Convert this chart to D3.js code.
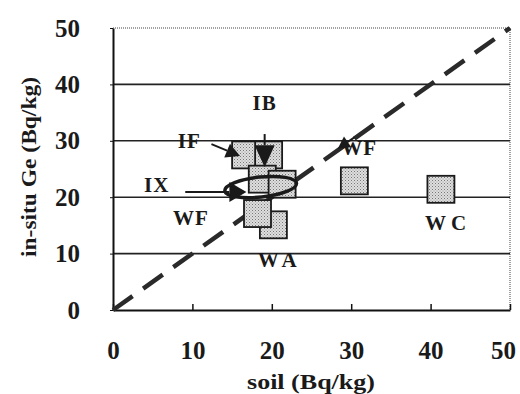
<!DOCTYPE html>
<html>
<head>
<meta charset="utf-8">
<script src="https://cdn.jsdelivr.net/npm/d3@7"></script>
<style>
  body { margin: 0; background: #fff; }
  text { font-family: "Liberation Serif", "Times New Roman", serif; font-weight: bold; fill: #1a1a1a; }
</style>
</head>
<body>
<div class="canva"></div>
<script>
// measured points, soil vs in-situ Ge (Bq/kg)
const soil = [16.7, 19.6, 18.8, 21.3, 20.2, 18.2, 30.4, 41.3];
const insitu = [27.5, 27.5, 23.2, 22.3, 15.1, 17.1, 22.9, 21.4];

const ticks = [0, 10, 20, 30, 40, 50];
const gridValues = [10, 20, 30, 40];

// site labels
const labelNames = ["IB", "IF", "WF", "IX", "WF", "WC", "WA"];
const labelX = [19.1, 9.6, 31.0, 5.5, 9.8, 42.2, 21.0];
const labelY = [35.5, 28.7, 27.5, 20.9, 15.1, 14.2, 7.6];

// arrows: from -> to
const arrowFromX = [19.1, 12.4, 30.4, 9.1];
const arrowFromY = [31.2, 29.4, 30.6, 20.9];
const arrowToX = [19.1, 16.0, 28.3, 16.8];
const arrowToY = [25.3, 27.3, 28.6, 20.9];

const W = 520, H = 394;
const mLeft = 113, mRight = 510, mTop = 28, mBottom = 310;

const svg = d3.select(".canva").append("svg")
    .attr("width", W)
    .attr("height", H);

svg.append("rect").attr("width", W).attr("height", H).attr("fill", "#fff");

const x = d3.scaleLinear().domain([0, 50]).range([mLeft, mRight]);
const y = d3.scaleLinear().domain([0, 50]).range([mBottom, mTop]);

// stipple fill for the squares
const pat = svg.append("defs").append("pattern")
    .attr("id", "dots")
    .attr("width", 3).attr("height", 3)
    .attr("patternUnits", "userSpaceOnUse");
pat.append("rect").attr("width", 3).attr("height", 3).attr("fill", "#dedede");
pat.append("rect").attr("width", 1).attr("height", 1).attr("fill", "#777");
pat.append("rect").attr("x", 1.5).attr("y", 1.5).attr("width", 1).attr("height", 1).attr("fill", "#999");

// dotted frame top / right
svg.append("line")
    .attr("x1", x(0)).attr("y1", y(50)).attr("x2", x(50)).attr("y2", y(50))
    .attr("stroke", "#444").attr("stroke-width", 1).attr("stroke-dasharray", "1,1");
svg.append("line")
    .attr("x1", x(50)).attr("y1", y(50)).attr("x2", x(50)).attr("y2", y(0))
    .attr("stroke", "#444").attr("stroke-width", 1).attr("stroke-dasharray", "1,1");

// grid
svg.selectAll(".grid")
    .data(gridValues)
    .enter().append("line")
    .attr("x1", x(0)).attr("x2", x(50))
    .attr("y1", d => y(d)).attr("y2", d => y(d))
    .attr("stroke", "#222").attr("stroke-width", 1.6);

// axes
const xAxis = svg.append("g")
    .attr("transform", `translate(0,${mBottom})`)
    .call(d3.axisBottom(x).tickValues(ticks).tickSizeInner(-6).tickSizeOuter(0).tickPadding(31));
xAxis.select(".domain").attr("stroke", "#111").attr("stroke-width", 2);
xAxis.selectAll(".tick line").attr("stroke", "#111").attr("stroke-width", 1.5);
xAxis.selectAll(".tick text")
    .attr("font-size", 25).attr("font-family", "Liberation Serif").attr("font-weight", "bold").attr("fill", "#1a1a1a")
    .attr("dx", d => d == 50 ? -7 : 0);

const yAxis = svg.append("g")
    .attr("transform", `translate(${mLeft},0)`)
    .call(d3.axisLeft(y).tickValues(ticks).tickSizeInner(3).tickSizeOuter(0).tickPadding(30));
yAxis.select(".domain").attr("stroke", "#111").attr("stroke-width", 2);
yAxis.selectAll(".tick line").attr("stroke", "#111").attr("stroke-width", 1);
yAxis.selectAll(".tick text")
    .attr("font-size", 25).attr("font-family", "Liberation Serif").attr("font-weight", "bold").attr("fill", "#1a1a1a");

// 1:1 line
svg.append("line")
    .attr("x1", x(0)).attr("y1", y(0)).attr("x2", x(50)).attr("y2", y(50))
    .attr("stroke", "#2a2a2a").attr("stroke-width", 4.5)
    .attr("stroke-dasharray", "24,13");

// squares
const sq = 27;
svg.selectAll(".pt")
    .data(soil)
    .enter().append("rect")
    .attr("x", (d, i) => x(d) - sq / 2)
    .attr("y", (d, i) => y(insitu[i]) - sq / 2)
    .attr("width", sq).attr("height", sq)
    .attr("fill", "url(#dots)")
    .attr("stroke", "#1a1a1a").attr("stroke-width", 1.8);

// ellipse around IX
svg.append("ellipse")
    .attr("cx", x(18.6)).attr("cy", y(21.8))
    .attr("rx", 36).attr("ry", 10)
    .attr("transform", `rotate(-6,${x(18.6)},${y(21.8)})`)
    .attr("fill", "none").attr("stroke", "#1a1a1a").attr("stroke-width", 3.5);

// arrows
const heads = [[20, 22], [15, 14], [13, 12], [20, 17]];
arrowFromX.forEach((d, i) => {
    const x1 = x(d), y1 = y(arrowFromY[i]);
    const x2 = x(arrowToX[i]), y2 = y(arrowToY[i]);
    const ang = Math.atan2(y2 - y1, x2 - x1);
    const len = heads[i][1], half = heads[i][0] / 2;
    const bx = x2 - len * Math.cos(ang), by = y2 - len * Math.sin(ang);
    svg.append("line")
        .attr("x1", x1).attr("y1", y1).attr("x2", bx).attr("y2", by)
        .attr("stroke", "#1a1a1a").attr("stroke-width", 2);
    svg.append("path")
        .attr("d", d3.line()([
            [x2, y2],
            [bx + half * Math.sin(ang), by - half * Math.cos(ang)],
            [bx - half * Math.sin(ang), by + half * Math.cos(ang)]
        ]) + "Z")
        .attr("fill", "#1a1a1a");
});

// labels
svg.selectAll(".lab")
    .data(labelNames)
    .enter().append("text")
    .attr("x", (d, i) => x(labelX[i]))
    .attr("y", (d, i) => y(labelY[i]))
    .attr("text-anchor", "middle")
    .attr("font-size", 21)
    .attr("letter-spacing", d => (d == "WC" || d == "WA") ? 5 : 1)
    .text(d => d);

// axis titles
svg.append("text")
    .attr("x", 311).attr("y", 389)
    .attr("text-anchor", "middle")
    .attr("font-size", 21)
    .attr("textLength", 128).attr("lengthAdjust", "spacingAndGlyphs")
    .text("soil (Bq/kg)");

svg.append("text")
    .attr("transform", "translate(36,167) rotate(-90)")
    .attr("text-anchor", "middle")
    .attr("font-size", 21)
    .attr("textLength", 180).attr("lengthAdjust", "spacingAndGlyphs")
    .text("in-situ Ge (Bq/kg)");
</script>
</body>
</html>
